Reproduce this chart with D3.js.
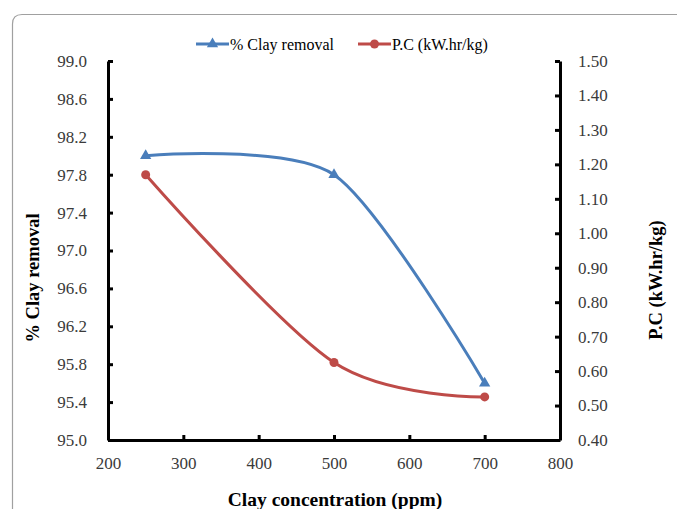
<!DOCTYPE html>
<html>
<head>
<meta charset="utf-8">
<script src="https://cdn.jsdelivr.net/npm/d3@7"></script>
<style>
  body { margin: 0; background: #fff; }
  svg text { font-family: "Liberation Serif", "Times New Roman", serif; fill: #000; }
</style>
</head>
<body>
<svg id="chart" width="677" height="509"></svg>
<script>
// clay concentration (ppm)
const concentrations = [250, 500, 700];
// % clay removal (left axis)
const clay_removal = [98.0, 97.8, 95.6];
// power consumption kW.hr/kg (right axis)
const power_consumption = [1.17, 0.625, 0.525];

const x_ticks = [200, 300, 400, 500, 600, 700, 800];
const left_ticks = [95.0, 95.4, 95.8, 96.2, 96.6, 97.0, 97.4, 97.8, 98.2, 98.6, 99.0];
const right_ticks = [0.4, 0.5, 0.6, 0.7, 0.8, 0.9, 1.0, 1.1, 1.2, 1.3, 1.4, 1.5];

const blue = '#4a7ebb';
const red = '#be4b48';

let svg = d3.select('#chart');
let plot = {left: 108, right: 560, top: 61, bottom: 440};

// outer chart frame, cut off by the picture edge
svg.append('path')
    .attr('d', 'M12.5,520 L12.5,24 Q12.5,14.5 22,14.5 L690,14.5')
    .attr('fill', 'none')
    .attr('stroke', '#a0a0a0')
    .attr('stroke-width', 1.2);

let x = d3.scaleLinear().domain([200, 800]).range([plot.left, plot.right]);
let y_left = d3.scaleLinear().domain([95, 99]).range([plot.bottom, plot.top]);
let y_right = d3.scaleLinear().domain([0.4, 1.5]).range([plot.bottom, plot.top]);

function style_axis(g) {
    g.select('.domain').attr('stroke', '#000').attr('stroke-width', 3);
    g.selectAll('.tick line').attr('stroke', '#000').attr('stroke-width', 3);
    g.selectAll('.tick text').style('font-size', '17px').style('fill', '#3a3a3a');
}

svg.append('g')
    .attr('transform', 'translate(0,' + plot.bottom + ')')
    .call(d3.axisBottom(x).tickValues(x_ticks).tickSizeInner(-5).tickSizeOuter(0).tickPadding(17).tickFormat(d3.format('d')))
    .call(style_axis);

svg.append('g')
    .attr('transform', 'translate(' + plot.left + ',0)')
    .call(d3.axisLeft(y_left).tickValues(left_ticks).tickSizeInner(-5).tickSizeOuter(0).tickPadding(21).tickFormat(d3.format('.1f')))
    .call(style_axis);

svg.append('g')
    .attr('transform', 'translate(' + plot.right + ',0)')
    .call(d3.axisRight(y_right).tickValues(right_ticks).tickSizeInner(-5).tickSizeOuter(0).tickPadding(18).tickFormat(d3.format('.2f')))
    .call(style_axis);

// smoothed series lines
let blue_line = d3.line()
    .x((d, i) => x(concentrations[i]))
    .y(d => y_left(d))
    .curve(d3.curveCardinal.tension(0.2));
let red_line = d3.line()
    .x((d, i) => x(concentrations[i]))
    .y(d => y_right(d))
    .curve(d3.curveCardinal.tension(0.05));

svg.append('path').datum(power_consumption)
    .attr('d', red_line).attr('fill', 'none').attr('stroke', red).attr('stroke-width', 3);
svg.append('path').datum(clay_removal)
    .attr('d', blue_line).attr('fill', 'none').attr('stroke', blue).attr('stroke-width', 3);

let triangle = d3.symbol().type(d3.symbolTriangle).size(55);
svg.selectAll('.pc-dot').data(power_consumption).enter().append('circle')
    .attr('cx', (d, i) => x(concentrations[i]))
    .attr('cy', d => y_right(d))
    .attr('r', 4.5)
    .attr('fill', red);
svg.selectAll('.clay-mark').data(clay_removal).enter().append('path')
    .attr('d', triangle)
    .attr('transform', (d, i) => 'translate(' + x(concentrations[i]) + ',' + y_left(d) + ')')
    .attr('fill', blue);

// axis titles
svg.append('text')
    .attr('x', 335).attr('y', 506)
    .attr('text-anchor', 'middle')
    .style('font-size', '19.5px').style('font-weight', 'bold')
    .text('Clay concentration (ppm)');
svg.append('text')
    .attr('transform', 'translate(39,278) rotate(-90)')
    .attr('text-anchor', 'middle')
    .style('font-size', '18.5px').style('font-weight', 'bold')
    .text('% Clay removal');
svg.append('text')
    .attr('transform', 'translate(662,280) rotate(-90)')
    .attr('text-anchor', 'middle')
    .style('font-size', '18.5px').style('font-weight', 'bold')
    .text('P.C (kW.hr/kg)');

// legend
let legend = svg.append('g').attr('transform', 'translate(0,44)');
legend.append('line').attr('x1', 196).attr('x2', 229).attr('stroke', blue).attr('stroke-width', 3);
legend.append('path').attr('d', triangle).attr('transform', 'translate(212.5,0)').attr('fill', blue);
legend.append('text').attr('x', 230).attr('y', 5.5).style('font-size', '16px').text('% Clay removal');
legend.append('line').attr('x1', 358).attr('x2', 391).attr('stroke', red).attr('stroke-width', 3);
legend.append('circle').attr('cx', 374.5).attr('cy', 0).attr('r', 4.5).attr('fill', red);
legend.append('text').attr('x', 392).attr('y', 5.5).style('font-size', '16px').text('P.C (kW.hr/kg)');
</script>
</body>
</html>
